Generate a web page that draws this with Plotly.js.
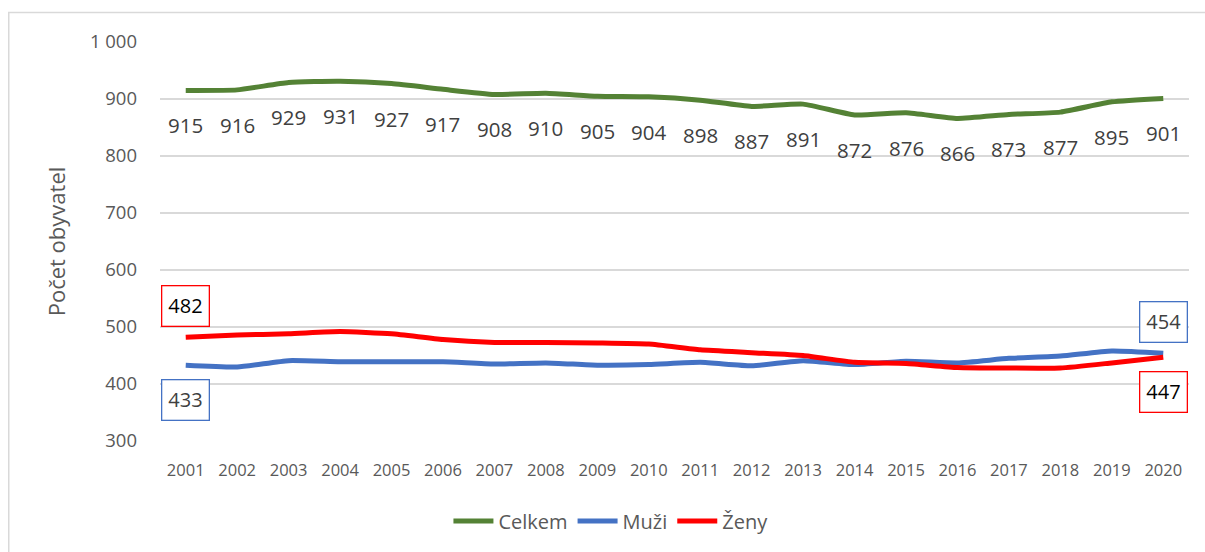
<!DOCTYPE html>
<html>
<head>
<meta charset="utf-8">
<script src="https://cdn.plot.ly/plotly-3.0.1.min.js"></script>
<style>html,body{margin:0;padding:0;background:#fff}#chart{width:1205px;height:552px}</style>
</head>
<body>
<div id="chart"></div>
<script>
const years = [2001,2002,2003,2004,2005,2006,2007,2008,2009,2010,2011,2012,2013,2014,2015,2016,2017,2018,2019,2020];
const celkem = [915,916,929,931,927,917,908,910,905,904,898,887,891,872,876,866,873,877,895,901];
const muzi   = [433,430,441,439,439,439,435,437,433,434,438,432,441,434,440,437,445,449,458,454];
const zeny   = [482,486,488,492,488,478,473,473,472,470,460,455,450,438,436,429,428,428,437,447];
const seriesNames = ['Celkem','Muži','Ženy'];

const font = 'Open Sans, Liberation Sans, sans-serif';
const gray = '#595959';

const traces = [
  {x: years, y: celkem, name: seriesNames[0], mode: 'lines', line: {color: '#548235', width: 5, shape: 'spline', smoothing: 0.5}},
  {x: years, y: muzi, name: seriesNames[1], mode: 'lines', line: {color: '#4472C4', width: 5, shape: 'spline', smoothing: 0.5}},
  {x: years, y: zeny, name: seriesNames[2], mode: 'lines', line: {color: '#FF0000', width: 5, shape: 'spline', smoothing: 0.5}}
];

const annotations = years.map((yr, i) => ({
  x: yr, y: celkem[i], text: String(celkem[i]), showarrow: false,
  yshift: -35, font: {family: font, size: 20.5, color: '#404040'}
}));
const last = years.length - 1;
function boxed(x, y, color, txtColor, shift) {
  return {x: x, y: y, text: String(y), showarrow: false, yshift: shift,
    bordercolor: color, borderwidth: 1.3, borderpad: 6, bgcolor: '#fff',
    font: {family: font, size: 20, color: txtColor}};
}
annotations.push(boxed(years[0], zeny[0], '#FF0000', '#000000', 31));
annotations.push(boxed(years[0], muzi[0], '#4472C4', '#404040', -35));
annotations.push(boxed(years[last], muzi[last], '#4472C4', '#404040', 31));
annotations.push(boxed(years[last], zeny[last], '#FF0000', '#000000', -35));

const layout = {
  width: 1205, height: 552,
  margin: {l: 160, r: 16, t: 42, b: 111},
  paper_bgcolor: '#fff', plot_bgcolor: '#fff',
  separators: ', ',
  font: {family: font, color: gray},
  showlegend: true,
  legend: {orientation: 'h', xref: 'container', yref: 'container', x: 0.507, xanchor: 'center',
    y: 0.056, yanchor: 'middle', itemwidth: 40,
    font: {family: font, size: 20, color: gray}},
  xaxis: {
    range: [2000.5, 2020.5], tickmode: 'array', tickvals: years, automargin: false,
    showgrid: false, zeroline: false, showline: false, ticks: '',
    tickfont: {family: font, size: 16.5, color: gray}, ticklabelstandoff: 17
  },
  yaxis: {
    range: [300, 1000], dtick: 100, tickformat: ',d', automargin: false,
    showgrid: true, gridcolor: '#d9d9d9', gridwidth: 1.3, zeroline: false, showline: false, ticks: '',
    tickfont: {family: font, size: 18.5, color: gray}, ticklabelstandoff: 22,
    title: {text: 'Počet obyvatel', font: {family: font, size: 22, color: gray}, standoff: 18}
  },
  annotations: annotations,
  shapes: [{type: 'rect', xref: 'paper', yref: 'paper', x0: -0.147, x1: 1.06, y0: -0.5, y1: 1.074,
    line: {color: '#d9d9d9', width: 1.5}, fillcolor: 'rgba(0,0,0,0)', layer: 'below'}]
};

Plotly.newPlot('chart', traces, layout, {displayModeBar: false, staticPlot: true});
</script>
</body>
</html>
